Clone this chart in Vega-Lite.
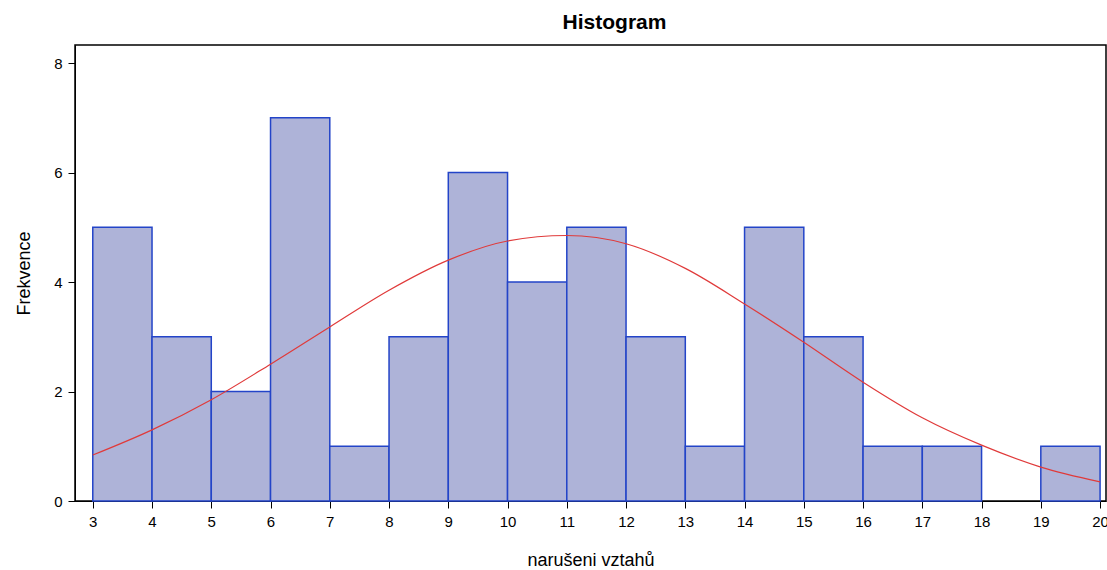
{
  "$schema": "https://vega.github.io/schema/vega-lite/v6.json",
  "width": 1031,
  "height": 456,
  "autosize": {"type": "none"},
  "padding": {"left": 75, "top": 45, "right": 1, "bottom": 69},
  "background": "white",
  "title": {
    "text": "Histogram",
    "font": "Liberation Sans",
    "fontSize": 21,
    "fontWeight": "bold",
    "color": "black",
    "offset": 12,
    "dx": 24
  },
  "config": {
    "view": {"stroke": "black", "strokeWidth": 1.5},
    "axis": {
      "grid": false,
      "labelFont": "Liberation Sans",
      "labelFontSize": 15,
      "labelColor": "black",
      "titleFont": "Liberation Sans",
      "titleFontSize": 18,
      "titleFontWeight": "normal",
      "titleColor": "black",
      "domainColor": "black",
      "tickColor": "black",
      "tickSize": 7
    }
  },
  "datasets": {
    "bins": [
      {"bin_start": 3, "bin_end": 4, "count": 5},
      {"bin_start": 4, "bin_end": 5, "count": 3},
      {"bin_start": 5, "bin_end": 6, "count": 2},
      {"bin_start": 6, "bin_end": 7, "count": 7},
      {"bin_start": 7, "bin_end": 8, "count": 1},
      {"bin_start": 8, "bin_end": 9, "count": 3},
      {"bin_start": 9, "bin_end": 10, "count": 6},
      {"bin_start": 10, "bin_end": 11, "count": 4},
      {"bin_start": 11, "bin_end": 12, "count": 5},
      {"bin_start": 12, "bin_end": 13, "count": 3},
      {"bin_start": 13, "bin_end": 14, "count": 1},
      {"bin_start": 14, "bin_end": 15, "count": 5},
      {"bin_start": 15, "bin_end": 16, "count": 3},
      {"bin_start": 16, "bin_end": 17, "count": 1},
      {"bin_start": 17, "bin_end": 18, "count": 1},
      {"bin_start": 19, "bin_end": 20, "count": 1}
    ],
    "curve": [
      {"x": 3, "y": 0.84},
      {"x": 4, "y": 1.3},
      {"x": 5, "y": 1.85},
      {"x": 6, "y": 2.5},
      {"x": 7, "y": 3.18},
      {"x": 8, "y": 3.85},
      {"x": 9, "y": 4.4},
      {"x": 10, "y": 4.75},
      {"x": 11, "y": 4.85},
      {"x": 12, "y": 4.7},
      {"x": 13, "y": 4.25},
      {"x": 14, "y": 3.6},
      {"x": 15, "y": 2.9},
      {"x": 16, "y": 2.17},
      {"x": 17, "y": 1.52},
      {"x": 18, "y": 1.02},
      {"x": 19, "y": 0.62},
      {"x": 20, "y": 0.35}
    ]
  },
  "layer": [
    {
      "data": {"name": "bins"},
      "mark": {"type": "rect", "fill": "#aeb3d8", "stroke": "#2344c8", "strokeWidth": 1.5},
      "encoding": {
        "x": {
          "field": "bin_start",
          "type": "quantitative",
          "scale": {"domain": [2.7, 20.1], "nice": false, "zero": false},
          "axis": {"values": [3, 4, 5, 6, 7, 8, 9, 10, 11, 12, 13, 14, 15, 16, 17, 18, 19, 20], "format": "d", "labelPadding": 6, "titlePadding": 22},
          "title": "narušeni vztahů"
        },
        "x2": {"field": "bin_end"},
        "y": {
          "field": "count",
          "type": "quantitative",
          "scale": {"domain": [0, 8.33], "nice": false},
          "axis": {"values": [0, 2, 4, 6, 8], "format": "d", "labelPadding": 6, "titlePadding": 20, "domain": true},
          "title": "Frekvence"
        },
        "y2": {"datum": 0}
      }
    },
    {
      "data": {"name": "curve"},
      "mark": {"type": "line", "color": "#e03a3a", "strokeWidth": 1.2, "interpolate": "monotone"},
      "encoding": {
        "x": {"field": "x", "type": "quantitative"},
        "y": {"field": "y", "type": "quantitative"}
      }
    }
  ]
}
